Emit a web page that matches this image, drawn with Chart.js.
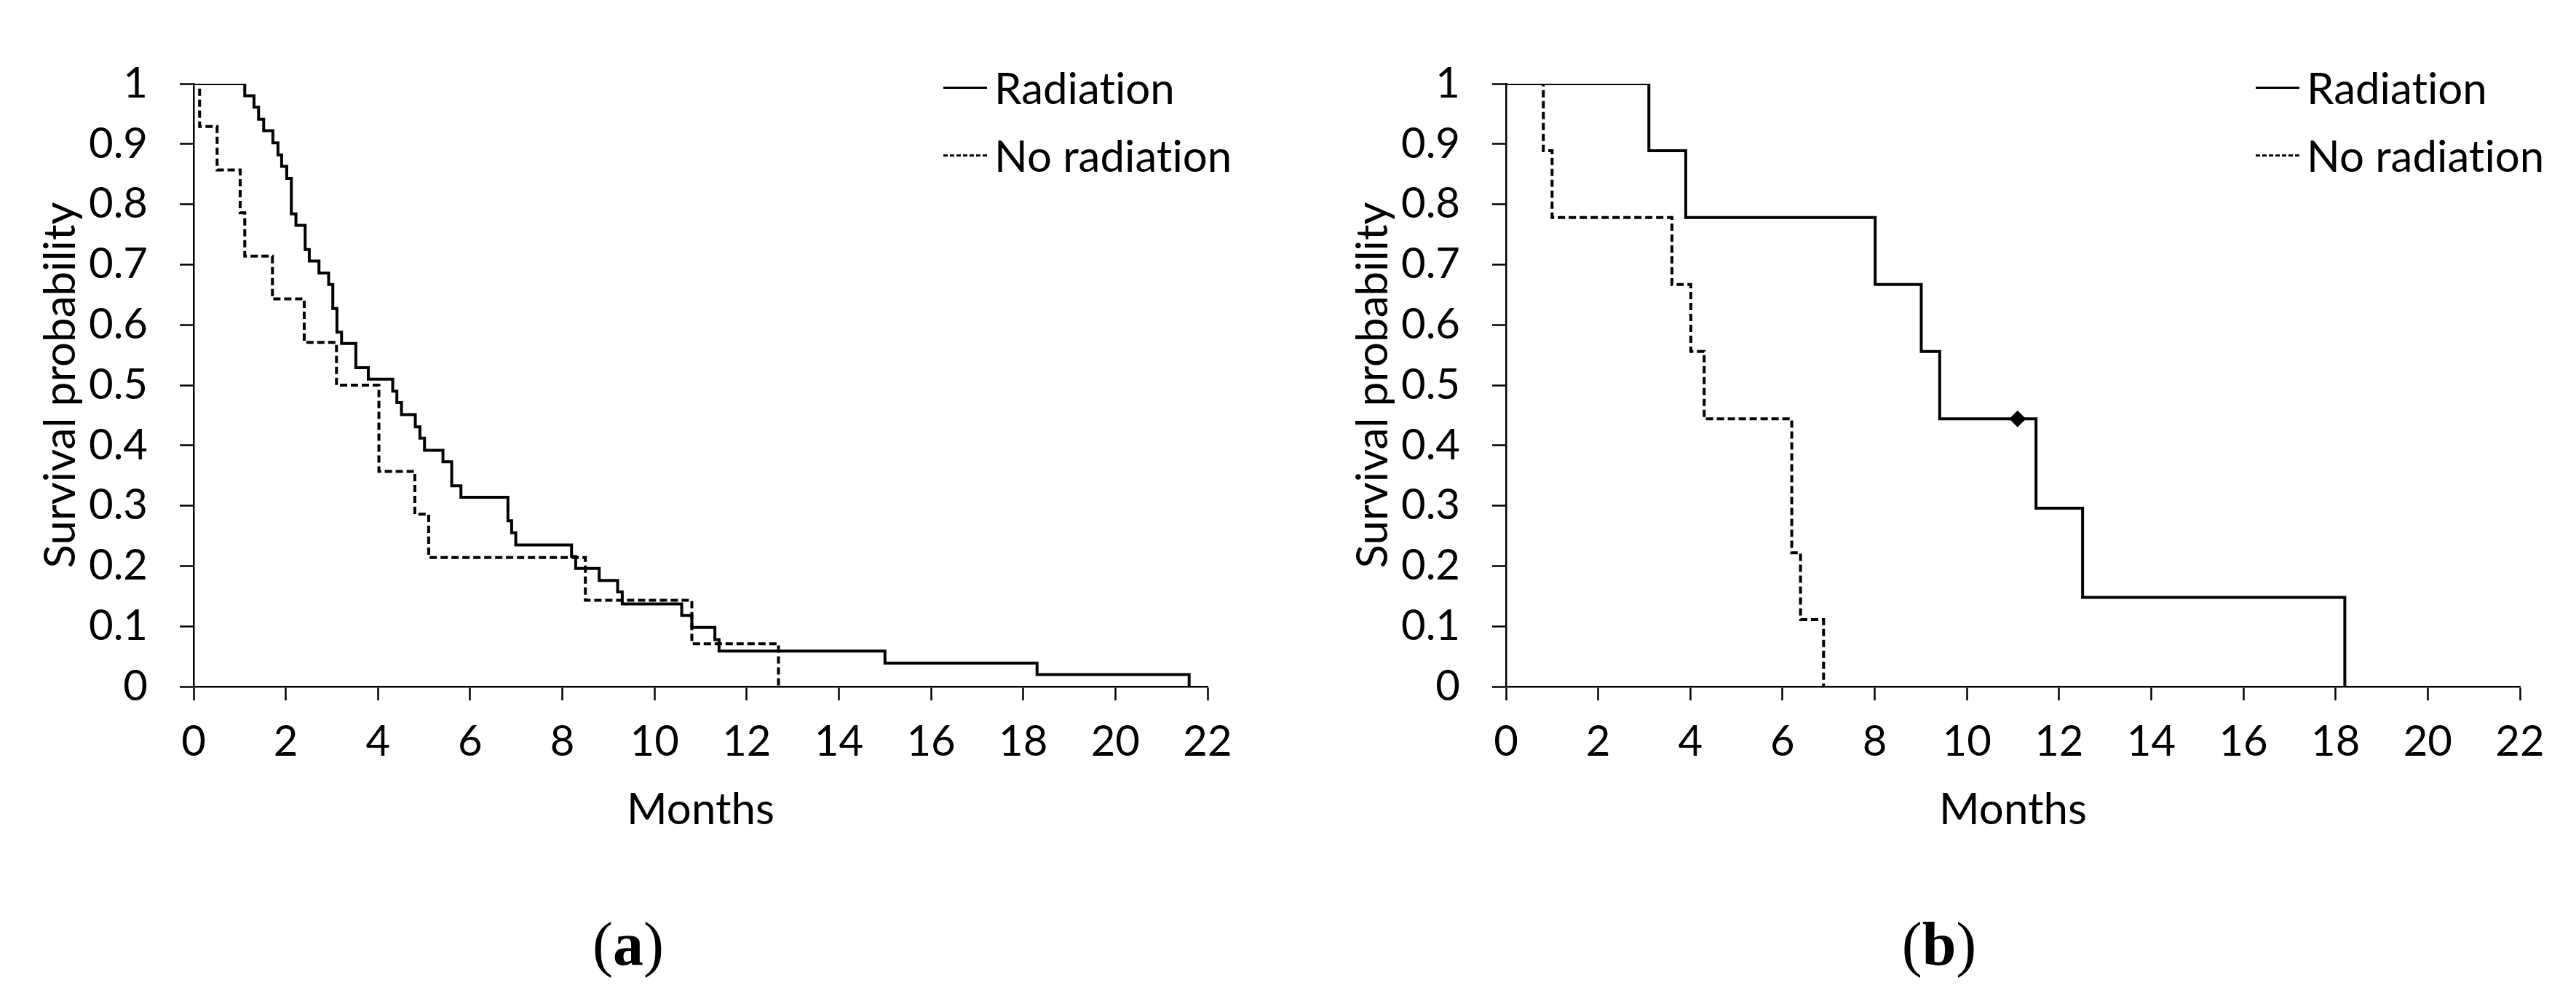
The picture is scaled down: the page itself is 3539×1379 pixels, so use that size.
<!DOCTYPE html>
<html>
<head>
<meta charset="utf-8">
<script src="https://cdn.jsdelivr.net/npm/chart.js@4.4.1/dist/chart.umd.min.js"></script>
<style>
    body { margin: 0; background: #ffffff; width: 3539px; height: 1379px; position: relative; overflow: hidden; }
    canvas { position: absolute; top: 0; }
    .leyenda { position: absolute; font-family: Lato, sans-serif; font-size: 60px; color: #000; line-height: 1; font-variant-ligatures: none; font-feature-settings: "liga" 0, "clig" 0; }
    .fila { position: absolute; left: 0; white-space: nowrap; display: flex; align-items: center; }
    .muestra { width: 60px; height: 0; margin-right: 10px; }
    .solida { border-top: 3px solid #000; }
    .guiones { border-top: 3px dashed #000; }
    .caption { position: absolute; font-family: "Liberation Serif", serif; font-size: 84px; color: #000; transform: translate(-50%, -50%); line-height: 1; }
</style>
</head>
<body>
<canvas id="graficaA" width="1770" height="1180" style="left:0px"></canvas>
<canvas id="graficaB" width="1736" height="1180" style="left:1803px"></canvas>

<div class="leyenda" style="left:1296px; top:0px">
    <div class="fila" style="top:90px"><span class="muestra solida"></span>Radiation</div>
    <div class="fila" style="top:183px"><span class="muestra guiones"></span>No radiation</div>
</div>
<div class="leyenda" style="left:3099px; top:0px">
    <div class="fila" style="top:90px"><span class="muestra solida"></span>Radiation</div>
    <div class="fila" style="top:183px"><span class="muestra guiones"></span>No radiation</div>
</div>

<div class="caption" style="left:863px; top:1297px">(<b>a</b>)</div>
<div class="caption" style="left:2664px; top:1297px">(<b>b</b>)</div>

<script>
// Datos (meses, probabilidad de supervivencia)
// Panel (a)
const mesesRadA = [0, 1.11, 1.31, 1.41, 1.52, 1.72, 1.83, 1.91, 2.02, 2.12, 2.22, 2.42, 2.51, 2.72, 2.93, 3.02, 3.11, 3.21, 3.52, 3.79, 4.32, 4.41, 4.51, 4.81, 4.91, 5.01, 5.41, 5.60, 5.80, 6.82, 6.90, 6.99, 8.20, 8.29, 8.80, 9.20, 9.30, 10.59, 10.81, 11.31, 11.40, 15.00, 18.30, 21.60];
const survRadA = [1, 0.980, 0.961, 0.941, 0.922, 0.902, 0.882, 0.863, 0.843, 0.784, 0.765, 0.725, 0.706, 0.686, 0.667, 0.627, 0.588, 0.569, 0.529, 0.510, 0.490, 0.471, 0.451, 0.431, 0.412, 0.392, 0.373, 0.333, 0.314, 0.275, 0.255, 0.235, 0.216, 0.196, 0.176, 0.157, 0.137, 0.118, 0.098, 0.078, 0.059, 0.039, 0.020, 0];
const mesesNoRadA = [0, 0.13, 0.51, 1.01, 1.11, 1.71, 2.40, 3.10, 4.02, 4.80, 5.10, 8.50, 10.81, 12.69];
const survNoRadA = [1, 0.929, 0.857, 0.786, 0.714, 0.643, 0.571, 0.500, 0.357, 0.286, 0.214, 0.143, 0.071, 0];

// Panel (b)
const mesesRadB = [0, 3.10, 3.90, 8.01, 9.01, 9.41, 11.50, 12.51, 18.20];
const survRadB = [1, 0.889, 0.778, 0.667, 0.556, 0.444, 0.296, 0.148, 0];
const mesesNoRadB = [0, 0.81, 1.00, 3.60, 4.01, 4.30, 6.20, 6.39, 6.89];
const survNoRadB = [1, 0.889, 0.778, 0.667, 0.556, 0.444, 0.222, 0.111, 0];
// dato censurado (rombo)
const censuraMesB = [11.10];
const censuraSurvB = [0.444];

// Etiquetas de los ejes
const ticksMeses = [0, 2, 4, 6, 8, 10, 12, 14, 16, 18, 20, 22];
const ticksProb = [0, 0.1, 0.2, 0.3, 0.4, 0.5, 0.6, 0.7, 0.8, 0.9, 1];
const series = ["Radiation", "No radiation"];

const fuente = "Lato, sans-serif";

document.addEventListener("DOMContentLoaded", function () {
    crearGrafica("graficaA", [mesesRadA, mesesNoRadA], [survRadA, survNoRadA], null, null, 111);
    crearGrafica("graficaB", [mesesRadB, mesesNoRadB], [survRadB, survNoRadB], censuraMesB, censuraSurvB, 77);
});

// Convierte dos listas en puntos {x, y}
function aPuntos(xs, ys) {
    return xs.map((x, i) => ({ x: x, y: ys[i] }));
}

// Crea una grafica de Kaplan-Meier en escalones
function crearGrafica(idCanvas, listaMeses, listaSurv, censMeses, censSurv, padDerecha) {
    const canvas = document.getElementById(idCanvas);

    const datasets = listaMeses.map((meses, i) => ({
        label: series[i],
        data: aPuntos(meses, listaSurv[i]),
        borderColor: "#000000",
        borderWidth: 4,
        borderDash: i === 1 ? [10, 5] : [],
        stepped: "before",
        pointRadius: 0,
        fill: false
    }));

    if (censMeses) {
        datasets.push({
            type: "scatter",
            label: "censura",
            data: aPuntos(censMeses, censSurv),
            pointStyle: "rectRot",
            pointRadius: 11,
            backgroundColor: "#000000",
            borderColor: "#000000",
            borderWidth: 1,
            showLine: false
        });
    }

    const ejeComun = {
        border: { display: true, color: "#000000", width: 2.5 },
        grid: { drawOnChartArea: false, drawTicks: true, tickLength: 19, tickWidth: 2.5, tickColor: "#000000" }
    };

    new Chart(canvas, {
        type: "line",
        data: { datasets: datasets },
        options: {
            responsive: false,
            animation: false,
            devicePixelRatio: 1,
            layout: { padding: { left: 0, top: 115, right: padDerecha, bottom: 0 } },
            plugins: { legend: { display: false }, tooltip: { enabled: false } },
            scales: {
                x: {
                    ...ejeComun,
                    type: "linear",
                    min: 0,
                    max: 22,
                    afterBuildTicks: (eje) => { eje.ticks = ticksMeses.map(v => ({ value: v })); },
                    afterFit: (eje) => { eje.height = 237; },
                    ticks: {
                        color: "#000000",
                        padding: 22,
                        maxRotation: 0,
                        font: { family: fuente, size: 58 },
                        callback: (v) => String(v)
                    },
                    title: {
                        display: true,
                        text: "Months",
                        color: "#000000",
                        padding: { top: 0, bottom: 31 },
                        font: { family: fuente, size: 60, lineHeight: 1.2 }
                    }
                },
                y: {
                    ...ejeComun,
                    type: "linear",
                    min: 0,
                    max: 1,
                    afterBuildTicks: (eje) => { eje.ticks = ticksProb.map(v => ({ value: v })); },
                    afterFit: (eje) => { eje.width = 266; },
                    ticks: {
                        color: "#000000",
                        padding: 44,
                        font: { family: fuente, size: 58 },
                        callback: (v) => String(+v.toFixed(1))
                    },
                    title: {
                        display: true,
                        text: "Survival probability",
                        color: "#000000",
                        padding: { top: 48, bottom: 0 },
                        font: { family: fuente, size: 60, lineHeight: 1.2 }
                    }
                }
            }
        }
    });
}
</script>
</body>
</html>
